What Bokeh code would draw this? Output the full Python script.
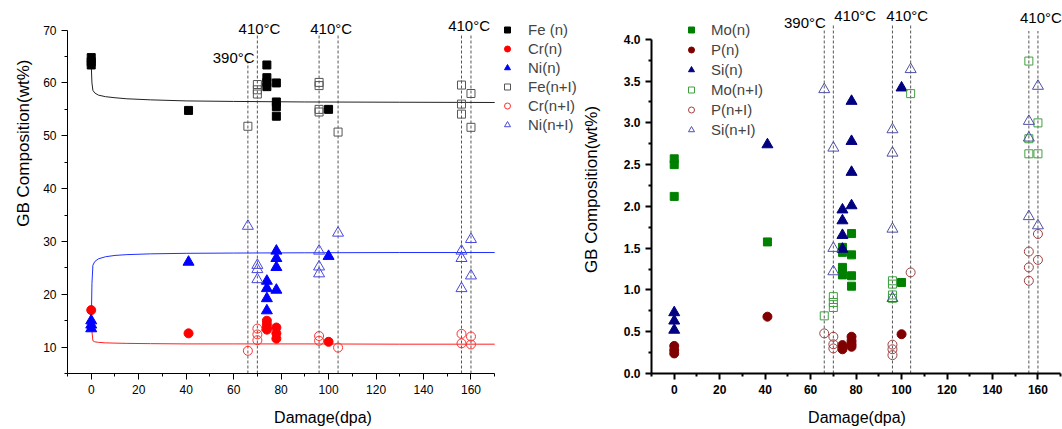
from bokeh.plotting import figure
from bokeh.layouts import row
from bokeh.models import FixedTicker, Legend, LegendItem, NumeralTickFormatter, Title
from bokeh.core.properties import value
from bokeh.embed import file_html
from bokeh.resources import INLINE

FONT = "Liberation Sans"

# ---------------- data: left panel (Fe, Cr, Ni) ----------------
fe_n_x = [0, 0, 0, 41, 74, 74, 74, 74, 78, 78, 78, 78, 100]
fe_n_y = [64.8, 64.0, 63.4, 54.8, 63.4, 61.0, 60.1, 59.3, 60.0, 56.4, 55.5, 53.7, 55.0]
cr_n_x = [0, 41, 74, 74, 74, 74, 78, 78, 78, 100]
cr_n_y = [17.0, 12.6, 15.0, 14.3, 13.6, 13.3, 13.7, 12.6, 11.6, 11.0]
ni_n_x = [0, 0, 0, 41, 74, 74, 74, 74, 78, 78, 78, 78, 100]
ni_n_y = [15.0, 14.2, 13.5, 26.1, 22.5, 21.1, 19.2, 16.9, 28.2, 26.8, 25.1, 20.8, 27.2]
fe_ni_x = [66, 70, 70, 70, 96, 96, 96, 96, 104, 156, 156, 156, 160, 160]
fe_ni_y = [51.8, 59.7, 58.7, 57.9, 60.1, 59.5, 55.0, 54.5, 50.7, 59.6, 56.0, 54.1, 58.0, 51.6]
cr_ni_x = [66, 70, 70, 70, 96, 96, 104, 156, 156, 160, 160]
cr_ni_y = [9.3, 13.5, 12.4, 11.3, 12.1, 11.2, 9.9, 12.5, 10.7, 12.0, 10.5]
ni_ni_x = [66, 70, 70, 70, 96, 96, 96, 104, 156, 156, 156, 160, 160]
ni_ni_y = [32.9, 25.5, 24.7, 22.8, 28.2, 25.2, 23.9, 31.6, 28.2, 26.8, 21.1, 30.4, 23.5]

# fitted curves
fit_x = [0, 0.3, 0.7, 1.5, 3, 6, 10, 15, 25, 40, 60, 90, 130, 170]
fe_fit_y = [63.5, 60.0, 58.6, 58.1, 57.7, 57.4, 57.2, 57.0, 56.8, 56.6, 56.5, 56.4, 56.35, 56.3]
cr_fit_y = [17.0, 13.0, 11.2, 11.0, 10.9, 10.8, 10.75, 10.7, 10.65, 10.6, 10.6, 10.6, 10.55, 10.55]
ni_fit_y = [14.0, 22.0, 25.5, 26.2, 26.7, 27.1, 27.35, 27.5, 27.65, 27.75, 27.8, 27.85, 27.9, 27.9]

# ---------------- data: right panel (Mo, P, Si) ----------------
mo_n_x = [0, 0, 0, 41, 74, 74, 74, 74, 74, 78, 78, 78, 78, 100]
mo_n_y = [2.57, 2.50, 2.12, 1.575, 1.51, 1.45, 1.27, 1.22, 1.18, 1.675, 1.42, 1.17, 1.045, 1.09]
p_n_x = [0, 0, 0, 41, 74, 74, 74, 78, 78, 78, 78, 100]
p_n_y = [0.33, 0.28, 0.24, 0.68, 0.34, 0.31, 0.29, 0.44, 0.39, 0.35, 0.32, 0.47]
si_n_x = [0, 0, 0, 41, 74, 74, 74, 74, 78, 78, 78, 78, 100]
si_n_y = [0.73, 0.63, 0.52, 2.74, 1.96, 1.83, 1.655, 1.49, 3.26, 2.78, 2.41, 2.01, 3.42]
mo_ni_x = [66, 70, 70, 70, 96, 96, 96, 96, 104, 156, 156, 156, 160, 160]
mo_ni_y = [0.69, 0.92, 0.85, 0.79, 1.11, 1.07, 0.94, 0.90, 3.35, 3.74, 2.81, 2.63, 3.0, 2.63]
p_ni_x = [66, 70, 70, 70, 96, 96, 96, 104, 156, 156, 156, 160, 160]
p_ni_y = [0.48, 0.44, 0.35, 0.30, 0.345, 0.29, 0.22, 1.21, 1.46, 1.27, 1.11, 1.67, 1.36]
si_ni_x = [66, 70, 70, 70, 96, 96, 96, 96, 104, 156, 156, 156, 160, 160]
si_ni_y = [3.40, 2.70, 1.50, 1.22, 2.92, 2.64, 1.73, 0.90, 3.64, 3.02, 2.82, 1.88, 3.44, 1.77]

# temperature reference lines and labels
vline_x = [66, 70, 96, 104, 156, 160]
left_vline_top = [63.8, 69.1, 69.1, 69.1, 69.1, 69.1]
right_vline_top = [4.13, 4.17, 4.17, 4.17, 4.10, 4.10]
temp_text = ["390°C", "410°C", "410°C", "410°C"]
left_temp_x = [60, 70.9, 101.1, 159.2]
left_temp_y = [64.9, 70.4, 70.4, 70.9]
right_temp_x = [57.5, 79.6, 102.5, 161.3]
right_temp_y = [4.20, 4.29, 4.29, 4.26]

# ticks
x_major = [0, 20, 40, 60, 80, 100, 120, 140, 160]
x_minor = [-10, 10, 30, 50, 70, 90, 110, 130, 150, 170]
left_y_major = [10, 20, 30, 40, 50, 60, 70]
left_y_minor = [5, 15, 25, 35, 45, 55, 65]
right_y_major = [0.0, 0.5, 1.0, 1.5, 2.0, 2.5, 3.0, 3.5, 4.0]
right_y_minor = [0.25, 0.75, 1.25, 1.75, 2.25, 2.75, 3.25, 3.75]


def style(p, bold, lw):
    p.xgrid.visible = False
    p.ygrid.visible = False
    p.outline_line_color = None
    for ax in (p.xaxis[0], p.yaxis[0]):
        ax.axis_line_width = lw
        ax.axis_line_color = "black"
        ax.major_tick_line_width = lw
        ax.minor_tick_line_width = lw
        ax.major_tick_in = 0
        ax.major_tick_out = 6
        ax.minor_tick_in = 0
        ax.minor_tick_out = 3
        ax.major_label_text_font = FONT
        ax.major_label_text_font_size = "12px"
        ax.major_label_text_font_style = "bold" if bold else "normal"
        ax.major_label_text_color = "black"
        ax.axis_label_text_font = FONT
        ax.axis_label_text_font_style = "normal"
        ax.axis_label_text_color = "black"
    p.xaxis[0].axis_label = "Damage(dpa)"
    p.xaxis[0].axis_label_text_font_size = "16px"
    p.xaxis[0].axis_label_standoff = 12


# ---------------- left figure ----------------
p1 = figure(width=578, height=429, x_range=(-10, 205.3), y_range=(5, 74.66),
            output_backend="svg", toolbar_location=None,
            min_border_left=67, min_border_right=0, min_border_top=5, min_border_bottom=56)
style(p1, False, 1)
p1.xaxis.bounds = (-10, 170)
p1.yaxis.bounds = (5, 70)
p1.xaxis.ticker = FixedTicker(ticks=x_major, minor_ticks=x_minor)
p1.yaxis.ticker = FixedTicker(ticks=left_y_major, minor_ticks=left_y_minor)
ytitle = Title(text="GB Composition(wt%)", align="right", offset=54, standoff=16,
               text_font=FONT, text_font_size="17px", text_font_style="normal", text_color="black")
p1.add_layout(ytitle, "left")

p1.segment(x0=vline_x, y0=[5] * len(vline_x), x1=vline_x, y1=left_vline_top,
           line_color="#555555", line_width=1, line_dash="3 2")
p1.text(x=left_temp_x, y=left_temp_y, text=temp_text, text_font=value(FONT),
        text_font_size="15px", text_align="center", text_baseline="middle", text_color="black")

p1.line(fit_x, fe_fit_y, line_color="#222222", line_width=1)
p1.line(fit_x, cr_fit_y, line_color="#ff2020", line_width=1)
p1.line(fit_x, ni_fit_y, line_color="#2030ff", line_width=1)

r_fe = p1.scatter(fe_n_x, fe_n_y, marker="square", size=8, fill_color="black", line_color="black")
r_cr = p1.scatter(cr_n_x, cr_n_y, marker="circle", size=9, fill_color="#ff0000", line_color="#ff0000")
r_ni = p1.scatter(ni_n_x, ni_n_y, marker="triangle", size=11, fill_color="#0000ff", line_color="#0000ff")
r_fei = p1.scatter(fe_ni_x, fe_ni_y, marker="square", size=8, fill_color=None, line_color="#555555")
r_cri = p1.scatter(cr_ni_x, cr_ni_y, marker="circle", size=9, fill_color=None, line_color="#ff3030")
r_nii = p1.scatter(ni_ni_x, ni_ni_y, marker="triangle", size=11, fill_color=None, line_color="#4848e0")

leg1 = Legend(items=[LegendItem(label="Fe (n)", renderers=[r_fe]),
                     LegendItem(label="Cr(n)", renderers=[r_cr]),
                     LegendItem(label="Ni(n)", renderers=[r_ni]),
                     LegendItem(label="Fe(n+I)", renderers=[r_fei]),
                     LegendItem(label="Cr(n+I)", renderers=[r_cri]),
                     LegendItem(label="Ni(n+I)", renderers=[r_nii])],
              location=(430, 240), padding=0, margin=0, spacing=2,
              glyph_height=15, glyph_width=20, label_height=15, label_standoff=11,
              label_text_font=FONT, label_text_font_size="15px",
              border_line_color=None, background_fill_alpha=0)
p1.add_layout(leg1)

# ---------------- right figure ----------------
p2 = figure(width=484, height=429, x_range=(-10, 170.8), y_range=(0, 4.405),
            output_backend="svg", toolbar_location=None,
            min_border_left=66, min_border_right=0, min_border_top=5, min_border_bottom=54)
style(p2, True, 2)
p2.xaxis.bounds = (-10, 170)
p2.yaxis.bounds = (0, 4.0)
p2.xaxis.ticker = FixedTicker(ticks=x_major, minor_ticks=x_minor)
p2.yaxis.ticker = FixedTicker(ticks=right_y_major, minor_ticks=right_y_minor)
p2.yaxis.formatter = NumeralTickFormatter(format="0.0")
p2.yaxis.axis_label = "GB Composition(wt%)"
p2.yaxis.axis_label_text_font_size = "17px"
p2.yaxis.axis_label_standoff = 20

p2.segment(x0=vline_x, y0=[0] * len(vline_x), x1=vline_x, y1=right_vline_top,
           line_color="#555555", line_width=1, line_dash="3 2")
p2.text(x=right_temp_x, y=right_temp_y, text=temp_text, text_font=value(FONT),
        text_font_size="15px", text_align="center", text_baseline="middle", text_color="black")

r_mo = p2.scatter(mo_n_x, mo_n_y, marker="square", size=8, fill_color="#008000", line_color="#008000")
r_p = p2.scatter(p_n_x, p_n_y, marker="circle", size=9, fill_color="#800000", line_color="#800000")
r_si = p2.scatter(si_n_x, si_n_y, marker="triangle", size=11, fill_color="#000080", line_color="#000080")
r_moi = p2.scatter(mo_ni_x, mo_ni_y, marker="square", size=8, fill_color=None, line_color="#40a040")
r_pi = p2.scatter(p_ni_x, p_ni_y, marker="circle", size=9, fill_color=None, line_color="#a04040")
r_sii = p2.scatter(si_ni_x, si_ni_y, marker="triangle", size=11, fill_color=None, line_color="#5050a8")

leg2 = Legend(items=[LegendItem(label="Mo(n)", renderers=[r_mo]),
                     LegendItem(label="P(n)", renderers=[r_p]),
                     LegendItem(label="Si(n)", renderers=[r_si]),
                     LegendItem(label="Mo(n+I)", renderers=[r_moi]),
                     LegendItem(label="P(n+I)", renderers=[r_pi]),
                     LegendItem(label="Si(n+I)", renderers=[r_sii])],
              location=(30, 235), padding=0, margin=0, spacing=3,
              glyph_height=15, glyph_width=20, label_height=15, label_standoff=10,
              label_text_font=FONT, label_text_font_size="15px",
              border_line_color=None, background_fill_alpha=0)
p2.add_layout(leg2)

layout = row(p1, p2)
open("out.html", "w").write(file_html(layout, INLINE))
